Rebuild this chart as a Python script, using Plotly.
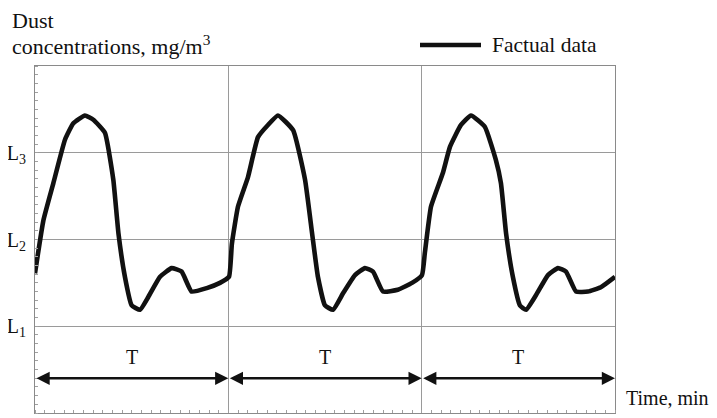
import plotly.graph_objects as go

# Time, min (one period T = 60 min, three periods shown)
time_min = [0, 2.6, 5.7, 9.3, 11.9, 15.5, 18.1, 21.7, 24.3, 25.9, 27.9, 30.0, 32.6, 35.2, 38.8, 42.4, 45.5, 48.6, 53.3, 57.4,
            60.2, 61.1, 63.0, 66.1, 69.2, 72.3, 75.4, 80.1, 83.8, 86.0, 87.8, 90.0, 92.5, 95.6, 99.3, 102.4, 104.9, 108.0, 112.6, 117.0,
            120.1, 121.0, 122.9, 126.6, 128.8, 132.2, 135.3, 139.6, 143.0, 144.6, 146.2, 148.3, 150.5, 152.4, 155.5, 159.2, 162.3, 164.8, 167.9, 171.6, 175.6, 180.0]
# Dust concentration in units of L (L1=1, L2=2, L3=3)
dust = [1.61, 2.22, 2.65, 3.15, 3.34, 3.43, 3.38, 3.23, 2.69, 2.07, 1.57, 1.24, 1.19, 1.34, 1.57, 1.67, 1.63, 1.40, 1.44, 1.50,
        1.57, 1.95, 2.38, 2.72, 3.18, 3.32, 3.43, 3.26, 2.69, 2.07, 1.57, 1.24, 1.19, 1.38, 1.59, 1.67, 1.63, 1.40, 1.42, 1.50,
        1.59, 1.85, 2.38, 2.77, 3.07, 3.32, 3.43, 3.30, 2.92, 2.65, 2.07, 1.57, 1.24, 1.19, 1.36, 1.59, 1.67, 1.63, 1.40, 1.40, 1.45, 1.57]

level_vals = [1, 2, 3]
level_labels = ["L<sub>1</sub>", "L<sub>2</sub>", "L<sub>3</sub>"]
period_bounds = [0, 60, 120, 180]
period_label = "T"
arrow_level = 0.4
label_level = 0.65
series_name = "Factual data"

FONT = "Liberation Serif, Times New Roman, serif"
INK = "#111111"
PW, PH = 580, 347  # plot area size in px
PL, PT = 35, 66    # plot area left/top in page px (reference)

fig = go.Figure()
fig.add_trace(go.Scatter(
    x=time_min, y=dust, mode="lines", name=series_name, showlegend=False,
    line=dict(color=INK, width=4.6, shape="spline", smoothing=0.4),
))

for a, b in zip(period_bounds[:-1], period_bounds[1:]):
    fig.add_annotation(
        x=b, y=arrow_level, ax=a, ay=arrow_level, xref="x", yref="y", axref="x", ayref="y",
        text="", showarrow=True, arrowside="end+start", arrowhead=2, arrowsize=1.1,
        arrowwidth=2.4, arrowcolor=INK, standoff=0, startstandoff=0,
    )
    fig.add_annotation(
        x=(a + b) / 2, y=label_level, xref="x", yref="y", text=period_label, showarrow=False,
        font=dict(family=FONT, size=20, color=INK),
    )

# axis title (top-left, two lines)
fig.add_annotation(x=(10 - PL) / PW, y=1, xref="paper", yref="paper", text="Dust", showarrow=False,
                   xanchor="left", yanchor="middle", yshift=PT - 20,
                   font=dict(family=FONT, size=22, color=INK))
fig.add_annotation(x=(10 - PL) / PW, y=1, xref="paper", yref="paper",
                   text="concentrations, mg/m<sup>3</sup>", showarrow=False,
                   xanchor="left", yanchor="middle", yshift=PT - 45,
                   font=dict(family=FONT, size=22, color=INK))
fig.add_annotation(x=1, y=0, xref="paper", yref="paper", text="Time, min", showarrow=False,
                   xanchor="left", yanchor="middle", xshift=9, yshift=413 - 398,
                   font=dict(family=FONT, size=20, color=INK))

# legend (line sample + text)
fig.add_shape(type="line", xref="paper", yref="paper",
              x0=(420 - PL) / PW, x1=(481 - PL) / PW,
              y0=1 + (PT - 45) / PH, y1=1 + (PT - 45) / PH,
              line=dict(color=INK, width=4.6))
fig.add_annotation(x=(490 - PL) / PW, y=1 + (PT - 45) / PH, xref="paper", yref="paper",
                   text=series_name, showarrow=False, xanchor="left", yanchor="middle",
                   font=dict(family=FONT, size=21.5, color=INK))

fig.update_xaxes(range=[0, 180], showticklabels=False, tickmode="array", tickvals=period_bounds,
                 showgrid=True, gridcolor="#9a9a9a", gridwidth=1, zeroline=False, automargin=False,
                 showline=True, linecolor="#8a8a8a", linewidth=1, mirror=True, ticks="",
                 minor=dict(ticks="inside", dtick=3, ticklen=3, tickcolor="#a0a0a0", showgrid=False))
fig.update_yaxes(range=[0, 4], tickmode="array", tickvals=level_vals, ticktext=level_labels,
                 showgrid=True, gridcolor="#9a9a9a", gridwidth=1, zeroline=False, automargin=False,
                 showline=True, linecolor="#8a8a8a", linewidth=1, mirror=True, ticks="",
                 ticklabelstandoff=4,
                 tickfont=dict(family=FONT, size=20, color=INK),
                 minor=dict(ticks="inside", dtick=0.1, ticklen=3, tickcolor="#a0a0a0", showgrid=False))

# the page body adds an 8 px margin, so the figure is 8 px smaller and offset accordingly
OFF = 8
W, H = 717 - OFF, 418 - OFF
fig.update_layout(
    width=W, height=H,
    margin=dict(l=PL - OFF, r=W - (PL - OFF) - PW, t=PT - OFF, b=H - (PT - OFF) - PH, autoexpand=False),
    paper_bgcolor="white", plot_bgcolor="white",
    showlegend=False,
)

fig.write_html("out.html")
